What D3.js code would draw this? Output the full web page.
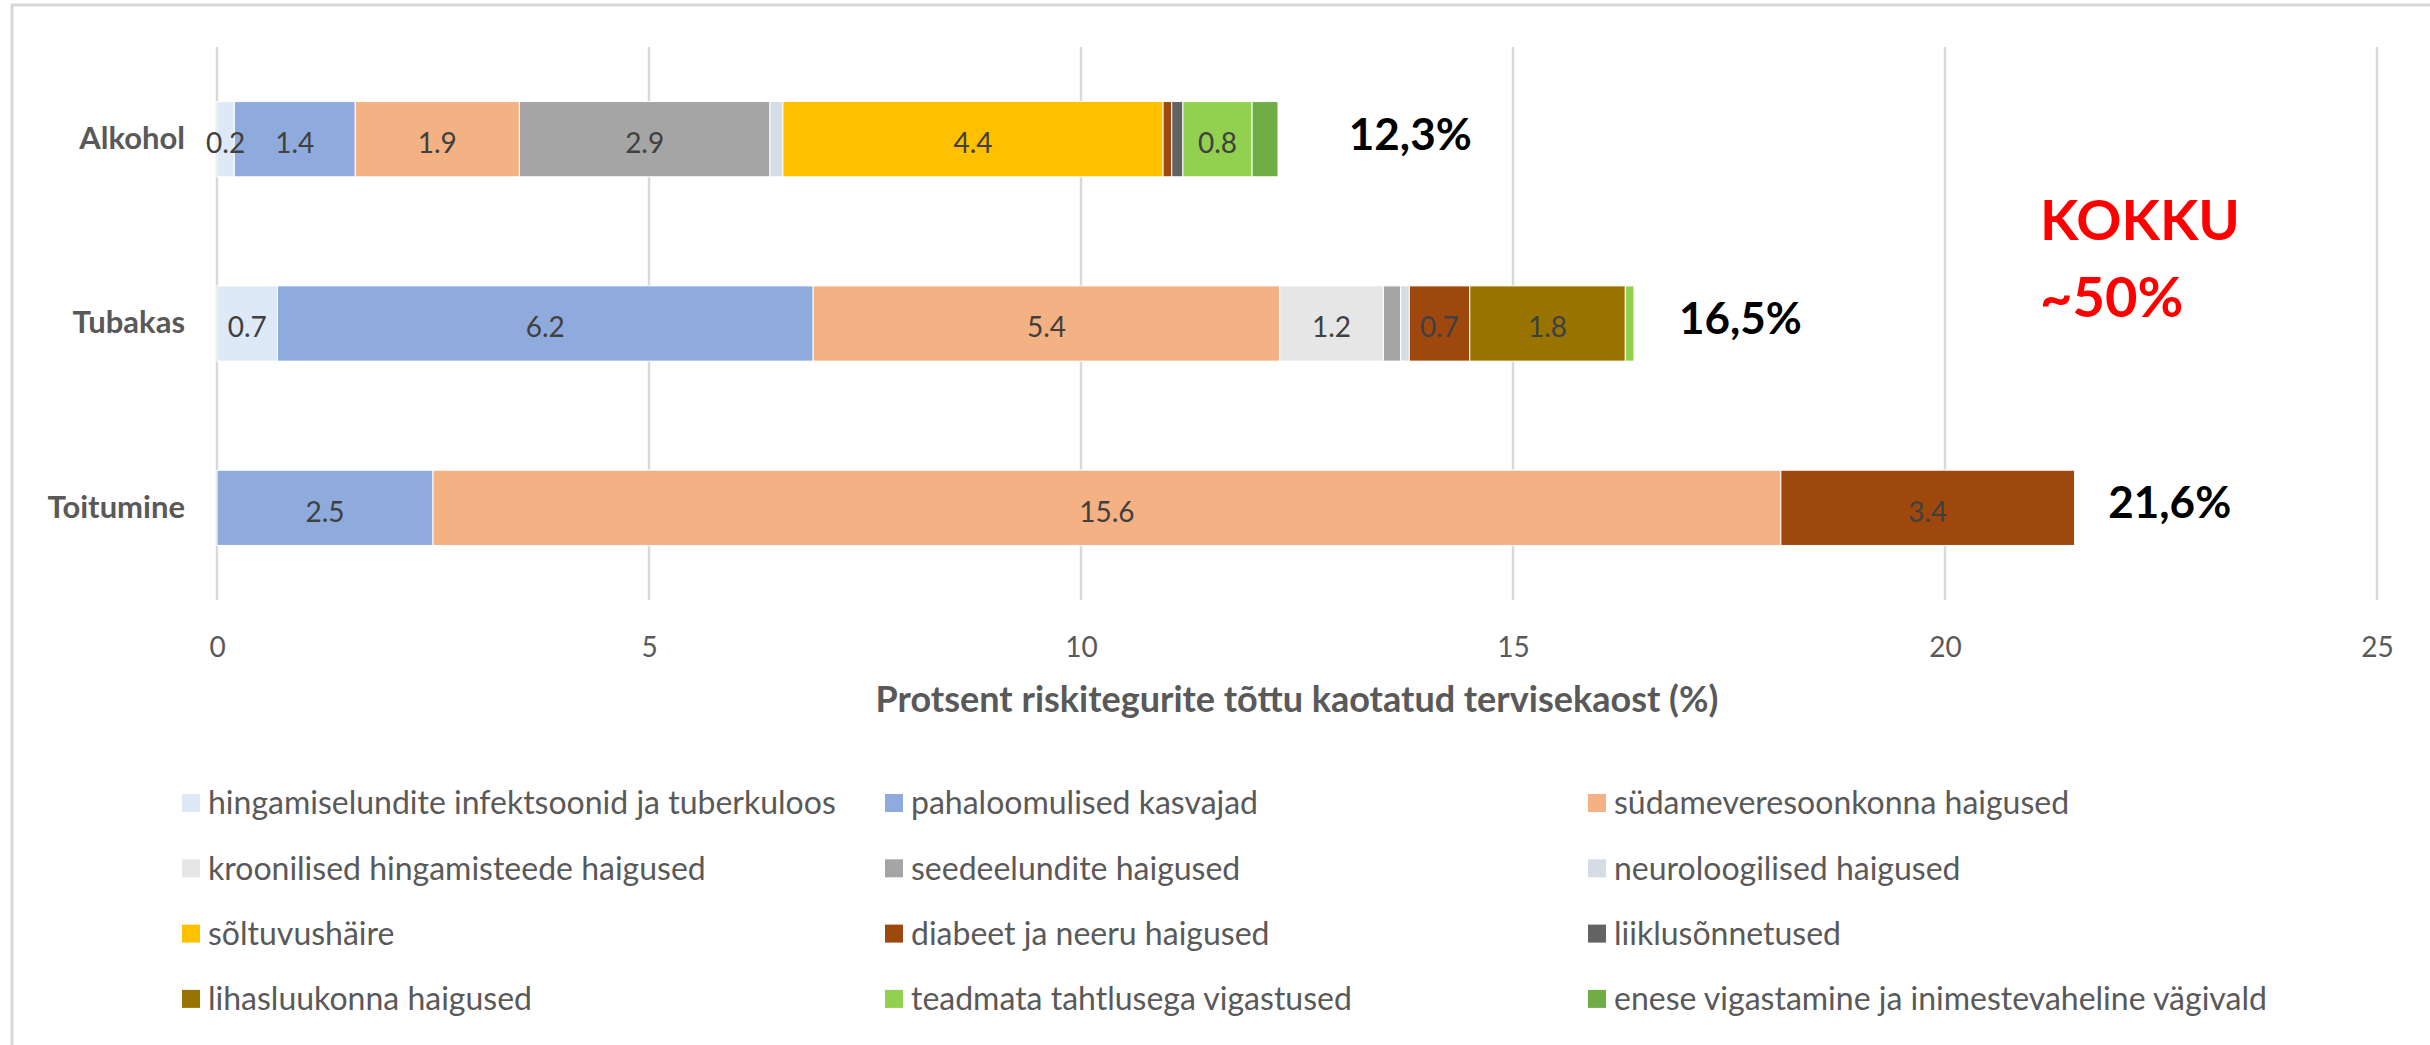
<!DOCTYPE html>
<html>
<head>
<meta charset="utf-8">
<script src="https://cdn.jsdelivr.net/npm/d3@7"></script>
<style>
  body { margin: 0; background: #fff; }
  svg { display: block; font-family: Lato, "Open Sans", sans-serif; }
</style>
</head>
<body>
<svg id="chart"></svg>
<script>
// categories (rows)
var categories = ["Alkohol", "Tubakas", "Toitumine"];

// series names (legend order = stack order)
var seriesNames = [
  "hingamiselundite infektsoonid ja tuberkuloos",
  "pahaloomulised kasvajad",
  "südameveresoonkonna haigused",
  "kroonilised hingamisteede haigused",
  "seedeelundite haigused",
  "neuroloogilised haigused",
  "sõltuvushäire",
  "diabeet ja neeru haigused",
  "liiklusõnnetused",
  "lihasluukonna haigused",
  "teadmata tahtlusega vigastused",
  "enese vigastamine ja inimestevaheline vägivald"
];

// values per series, in the order Alkohol, Tubakas, Toitumine
var hingamise    = [0.2, 0.7, 0];
var pahaloomulised = [1.4, 6.2, 2.5];
var sydame       = [1.9, 5.4, 15.6];
var kroonilised  = [0, 1.2, 0];
var seedeelundite = [2.9, 0.2, 0];
var neuro        = [0.15, 0.1, 0];
var soltuvus     = [4.4, 0, 0];
var diabeet      = [0.1, 0.7, 3.4];
var liiklus      = [0.13, 0, 0];
var lihas        = [0, 1.8, 0];
var teadmata     = [0.8, 0.1, 0];
var enese        = [0.3, 0, 0];

var totalLabels = ["12,3%", "16,5%", "21,6%"];
var totalLabelAt = [13.1, 16.92, 21.89];  // where the total text starts, in % units

var xTicks = [0, 5, 10, 15, 20, 25];

var colors = ["#dde9f6", "#8faadc", "#f4b183", "#e7e6e6", "#a5a5a5", "#d6dce5",
              "#ffc000", "#9e480e", "#636363", "#997300", "#92d050", "#70ad47"];

var allValues = [hingamise, pahaloomulised, sydame, kroonilised, seedeelundite, neuro,
                 soltuvus, diabeet, liiklus, lihas, teadmata, enese];

// build rows for d3.stack
var rows = categories.map(function(c, i) {
  var r = { cat: c };
  seriesNames.forEach(function(s, j) { r[s] = allValues[j][i]; });
  return r;
});

var width = 2430, height = 1045;
var svg = d3.select("#chart").attr("width", width).attr("height", height);

// chart border (only top and left show in the picture)
svg.append("path")
  .attr("d", "M12,1045 L12,5 L2430,5")
  .attr("fill", "none")
  .attr("stroke", "#d9d9d9")
  .attr("stroke-width", 3);

var x = d3.scaleLinear().domain([0, 25]).range([217, 2377]);
var gap = 1.45 / 2.45;
var y = d3.scaleBand().domain(categories).range([47, 600])
  .paddingInner(gap).paddingOuter(gap / 2);

// gridlines
svg.append("g").selectAll("line")
  .data(xTicks)
  .enter().append("line")
  .attr("x1", function(d) { return x(d); })
  .attr("x2", function(d) { return x(d); })
  .attr("y1", 47)
  .attr("y2", 600)
  .attr("stroke", "#d9d9d9")
  .attr("stroke-width", 2.5);

// x axis labels
var xAxis = d3.axisBottom(x).tickValues(xTicks).tickSize(0).tickPadding(0);
var gx = svg.append("g").attr("transform", "translate(0,638)").call(xAxis);
gx.select(".domain").remove();
gx.selectAll("text")
  .attr("dy", "0.35em")
  .attr("y", 9)
  .attr("fill", "#595959")
  .style("font-size", "28px")
  .style("font-family", "Lato");

// category labels
var yAxis = d3.axisLeft(y).tickSize(0).tickPadding(32);
var gy = svg.append("g").attr("transform", "translate(217,0)").call(yAxis);
gy.select(".domain").remove();
gy.selectAll("text")
  .attr("fill", "#595959")
  .style("font-size", "31px")
  .style("font-weight", "bold")
  .style("font-family", "Lato");

// stacked bars
var stack = d3.stack().keys(seriesNames);
var layers = stack(rows);

var layer = svg.append("g").selectAll("g")
  .data(layers)
  .enter().append("g")
  .attr("fill", function(d, i) { return colors[i]; });

layer.selectAll("rect")
  .data(function(d) { return d; })
  .enter().append("rect")
  .attr("x", function(d) { return x(d[0]); })
  .attr("y", function(d) { return y(d.data.cat); })
  .attr("width", function(d) { return x(d[1]) - x(d[0]); })
  .attr("height", y.bandwidth())
  .attr("stroke", "#fff")
  .attr("stroke-width", 1);

// value labels inside segments
var fmt = d3.format(".1f");
layers.forEach(function(l, j) {
  l.forEach(function(d) {
    var v = d[1] - d[0];
    if (v <= 0) return;
    if (v < 0.5 && j !== 0) return;
    svg.append("text")
      .attr("x", (x(d[0]) + x(d[1])) / 2)
      .attr("y", y(d.data.cat) + y.bandwidth() / 2 + 4)
      .attr("dy", "0.35em")
      .attr("text-anchor", "middle")
      .attr("fill", "#404040")
      .style("font-size", "28px")
      .text(fmt(v));
  });
});

// totals at the bar ends
svg.append("g").selectAll("text")
  .data(categories)
  .enter().append("text")
  .attr("x", function(d, i) { return x(totalLabelAt[i]); })
  .attr("y", function(d) { return y(d) + y.bandwidth() / 2 - 5; })
  .attr("dy", "0.35em")
  .attr("fill", "#000")
  .style("font-size", "44px")
  .style("font-weight", "bold")
  .text(function(d, i) { return totalLabels[i]; });

// KOKKU ~50%
var kokku = svg.append("text")
  .attr("fill", "#ff0000")
  .style("font-size", "56px")
  .style("font-weight", "bold");
kokku.append("tspan").attr("x", x(21.1)).attr("y", 240).text("KOKKU");
kokku.append("tspan").attr("x", x(21.1)).attr("y", 317).text("~50%");

// axis title
svg.append("text")
  .attr("x", (x(0) + x(25)) / 2)
  .attr("y", 712)
  .attr("text-anchor", "middle")
  .attr("fill", "#595959")
  .style("font-size", "36px")
  .style("font-weight", "bold")
  .text("Protsent riskitegurite tõttu kaotatud tervisekaost (%)");

// legend: 3 columns, 4 rows
var legend = svg.append("g").selectAll("g")
  .data(seriesNames)
  .enter().append("g")
  .attr("transform", function(d, i) {
    return "translate(" + (182 + (i % 3) * 703) + "," + (803 + Math.floor(i / 3) * 65.3) + ")";
  });

legend.append("rect")
  .attr("x", 0)
  .attr("y", -9)
  .attr("width", 18)
  .attr("height", 18)
  .attr("fill", function(d, i) { return colors[i]; });

legend.append("text")
  .attr("x", 26)
  .attr("y", 0)
  .attr("dy", "0.35em")
  .attr("fill", "#595959")
  .style("font-size", "32px")
  .text(function(d) { return d; });
</script>
</body>
</html>
